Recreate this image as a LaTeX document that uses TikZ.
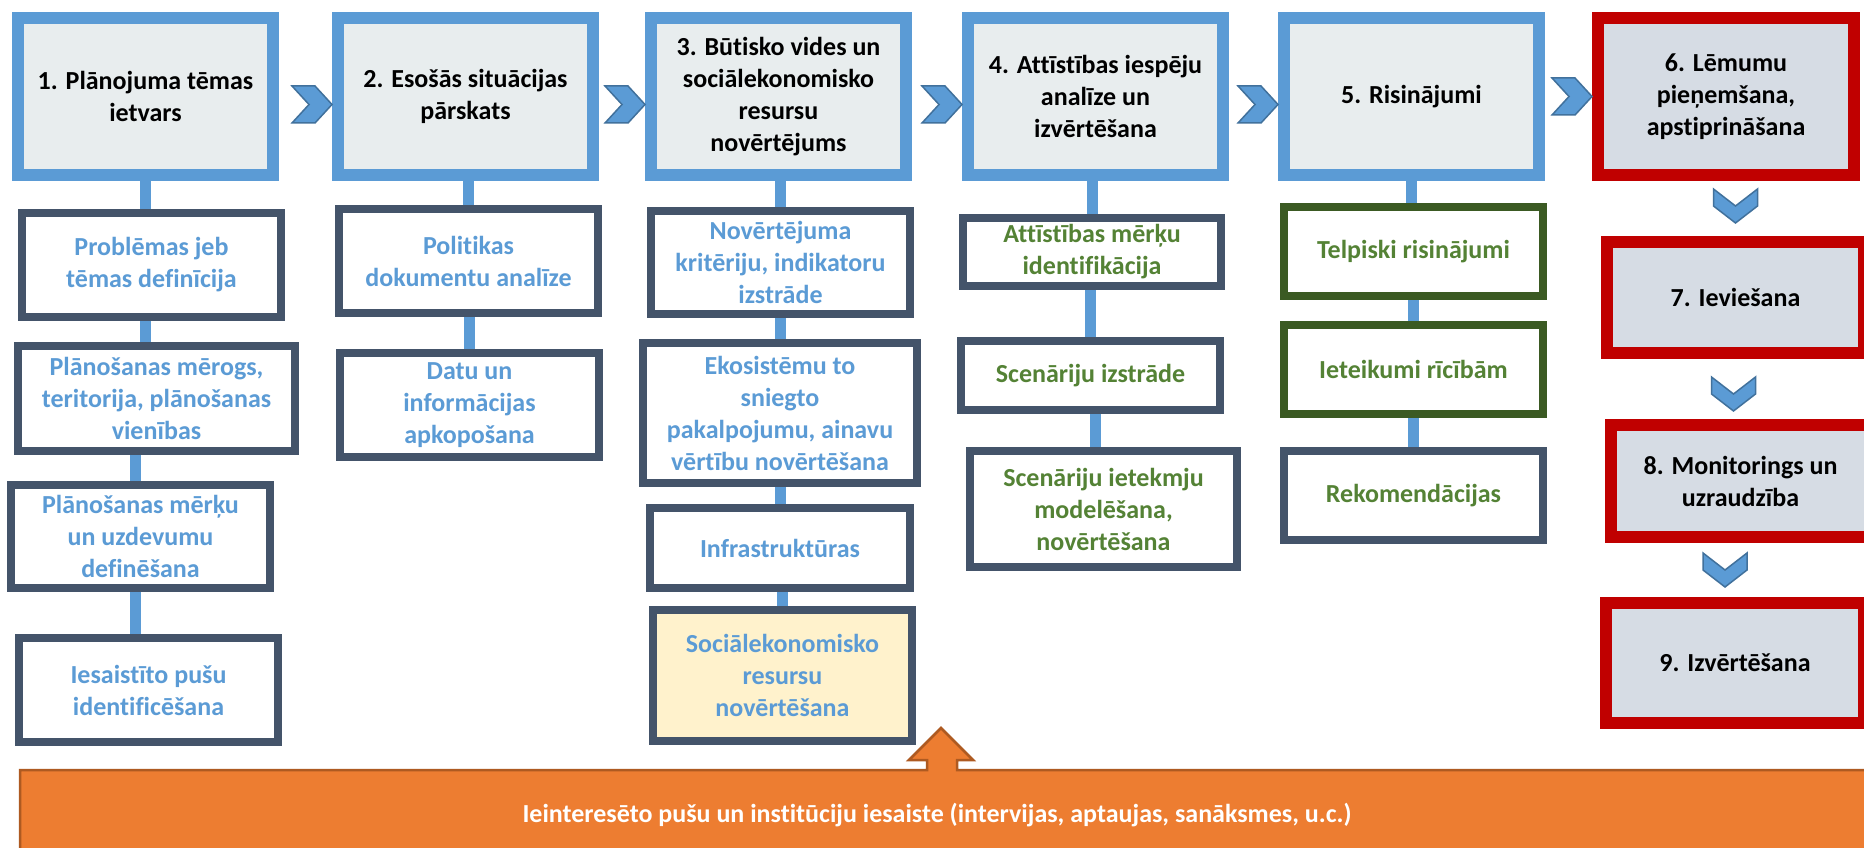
\documentclass[tikz,border=0pt]{standalone}
\usepackage{fontspec}
\setmainfont{Carlito}[Ligatures=NoCommon]
\usetikzlibrary{calc}
\definecolor{cTopB}{HTML}{5B9BD5}
\definecolor{cTopF}{HTML}{E8EDEE}
\definecolor{cRed}{HTML}{C00000}
\definecolor{cRedF}{HTML}{D6DCE4}
\definecolor{cDark}{HTML}{44546A}
\definecolor{cGreenB}{HTML}{3B5A23}
\definecolor{cGreenT}{HTML}{548235}
\definecolor{cBlueT}{HTML}{5B9BD5}
\definecolor{cYel}{HTML}{FFF2CC}
\definecolor{cOr}{HTML}{ED7D31}
\definecolor{cOrB}{HTML}{AE5A21}
\definecolor{cChevB}{HTML}{41719C}
\tikzset{
  txt/.style={font=\bfseries\fontsize{26}{32}\selectfont},
  topbox/.style={txt, draw=cTopB, fill=cTopF, line width=12pt, inner sep=0pt, align=center, text=black},
  redbox/.style={topbox, draw=cRed, fill=cRedF},
  subbox/.style={txt, draw=cDark, fill=white, line width=8pt, inner sep=0pt, align=center, text=cBlueT},
  grbox/.style={subbox, text=cGreenT},
  grnbox/.style={grbox, draw=cGreenB},
  conn/.style={draw=cTopB, line width=11pt},
  chevstyle/.style={fill=cTopB, draw=cChevB, line width=1.5pt, line join=miter},
  chevr/.pic={\path[chevstyle] (-40,-18.5) -- (-17,-18.5) -- (0,0) -- (-17,18.5) -- (-40,18.5) -- (-23,0) -- cycle;},
  chevd/.pic={\path[chevstyle] (-22,-34) -- (0,-17) -- (22,-34) -- (22,-17) -- (0,0) -- (-22,-17) -- cycle;}
}
\begin{document}
\begin{tikzpicture}[x=1pt,y=-1pt]
\useasboundingbox (0,0) rectangle (1864,848);
\fill[white] (0,0) rectangle (1864,848);
% top row
\node[topbox, minimum width=255pt, minimum height=157pt] (t1) at (145.5,96.5) {1. Plānojuma tēmas\\ietvars};
\node[topbox, minimum width=255pt, minimum height=157pt] (t2) at (465.5,96.5) {2. Esošās situācijas\\pārskats};
\node[topbox, minimum width=255pt, minimum height=157pt] (t3) at (778.5,96.5) {3. Būtisko vides un\\sociālekonomisko\\resursu\\novērtējums};
\node[topbox, minimum width=255pt, minimum height=157pt] (t4) at (1095.5,96.5) {4. Attīstības iespēju\\analīze un\\izvērtēšana};
\node[topbox, minimum width=255pt, minimum height=157pt] (t5) at (1411.5,96.5) {5. Risinājumi};
\node[redbox, minimum width=256pt, minimum height=157pt] (t6) at (1726,96.5) {6. Lēmumu\\pieņemšana,\\apstiprināšana};
\node[redbox, minimum width=257pt, minimum height=111pt] (t7) at (1735.5,297.5) {7. Ieviešana};
\node[redbox, minimum width=259pt, minimum height=112pt] (t8) at (1740.5,481) {8. Monitorings un\\uzraudzība};
\node[redbox, minimum width=258pt, minimum height=120pt] (t9) at (1735,663) {9. Izvērtēšana};
% column 1
\node[subbox, minimum width=259pt, minimum height=104pt] (a1) at (151.5,265) {Problēmas jeb\\tēmas definīcija};
\node[subbox, minimum width=277pt, minimum height=105pt] (a2) at (156.5,398.5) {Plānošanas mērogs,\\teritorija, plānošanas\\vienības};
\node[subbox, minimum width=259pt, minimum height=103pt] (a3) at (140.5,536.5) {Plānošanas mērķu\\un uzdevumu\\definēšana};
\node[subbox, minimum width=259pt, minimum height=104pt] (a4) at (148.5,690) {Iesaistīto pušu\\identificēšana};
% column 2
\node[subbox, minimum width=259pt, minimum height=104pt] (b1) at (468.5,261) {Politikas\\dokumentu analīze};
\node[subbox, minimum width=259pt, minimum height=104pt] (b2) at (469.5,405) {Datu un\\informācijas\\apkopošana};
% column 3
\node[subbox, minimum width=259pt, minimum height=103pt] (c1) at (780.5,262.5) {Novērtējuma\\kritēriju, indikatoru\\izstrāde};
\node[subbox, minimum width=274pt, minimum height=140pt] (c2) at (780,413) {Ekosistēmu to\\sniegto\\pakalpojumu, ainavu\\vērtību novērtēšana};
\node[subbox, minimum width=260pt, minimum height=80pt] (c3) at (780,548) {Infrastruktūras};
\node[subbox, fill=cYel, minimum width=259pt, minimum height=131pt] (c4) at (782.5,675.5) {Sociālekonomisko\\resursu\\novērtēšana};
% column 4
\node[grbox, minimum width=258pt, minimum height=68pt] (d1) at (1092,252) {Attīstības mērķu\\identifikācija};
\node[grbox, minimum width=259pt, minimum height=69pt] (d2) at (1090.5,375.5) {Scenāriju izstrāde};
\node[grbox, minimum width=267pt, minimum height=116pt] (d3) at (1103.5,509) {Scenāriju ietekmju\\modelēšana,\\novērtēšana};
% column 5
\node[grnbox, minimum width=259pt, minimum height=89pt] (e1) at (1413.5,251.5) {Telpiski risinājumi};
\node[grnbox, minimum width=259pt, minimum height=89pt] (e2) at (1413.5,369.5) {Ieteikumi rīcībām};
\node[grbox, minimum width=259pt, minimum height=89pt] (e3) at (1413.5,495.5) {Rekomendācijas};
% connectors
\draw[conn] (t1.south) -- (t1.south |- a1.north);
\draw[conn] ([xshift=-6pt]a1.south) -- ([xshift=-6pt]a1.south |- a2.north);
\draw[conn] ([xshift=-5pt]a3.north |- a2.south) -- ([xshift=-5pt]a3.north);
\draw[conn] ([xshift=-5pt]a3.south) -- ([xshift=-5pt]a3.south |- a4.north);
\draw[conn] (b1.north |- t2.south) -- (b1.north);
\draw[conn] (b2.north |- b1.south) -- (b2.north);
\draw[conn] (c1.north |- t3.south) -- (c1.north);
\draw[conn] (c2.north |- c1.south) -- (c2.north);
\draw[conn] (c3.north |- c2.south) -- (c3.north);
\draw[conn] (c4.north |- c3.south) -- (c4.north);
\draw[conn] (d1.north |- t4.south) -- (d1.north);
\draw[conn] (d2.north |- d1.south) -- (d2.north);
\draw[conn] ([xshift=5pt]d2.south) -- ([xshift=5pt]d2.south |- d3.north);
\draw[conn] (t5.south) -- (t5.south |- e1.north);
\draw[conn] (e1.south) -- (e1.south |- e2.north);
\draw[conn] (e2.south) -- (e2.south |- e3.north);
% chevrons
\pic at ($(t2.west)+(0,8)$) {chevr};
\pic at ($(t3.west)+(0,8)$) {chevr};
\pic at ($(t4.west)+(0,8)$) {chevr};
\pic at ($(t5.west)+(0,8)$) {chevr};
\pic at ($(t6.west)+(0,0)$) {chevr};
\pic at ($(t7.north)+(0,-13)$) {chevd};
\pic at ($(t8.north)+(-7,-8)$) {chevd};
\pic at ($(t9.north)+(-10,-10)$) {chevd};
% stakeholder involvement
\path[fill=cOr, draw=cOrB, line width=2.5pt, line join=miter] (20,770) -- (927,770) -- (927,760) -- (909,760) -- (941,728) -- (973,760) -- (957,760) -- (957,770) -- (1875,770) -- (1875,860) -- (20,860) -- cycle;
\node[font=\bfseries\fontsize{26}{30}\selectfont, text=white] (eng) at (937,815) {Ieinteresēto pušu un institūciju iesaiste (intervijas, aptaujas, sanāksmes, u.c.)};
\end{tikzpicture}
\end{document}
